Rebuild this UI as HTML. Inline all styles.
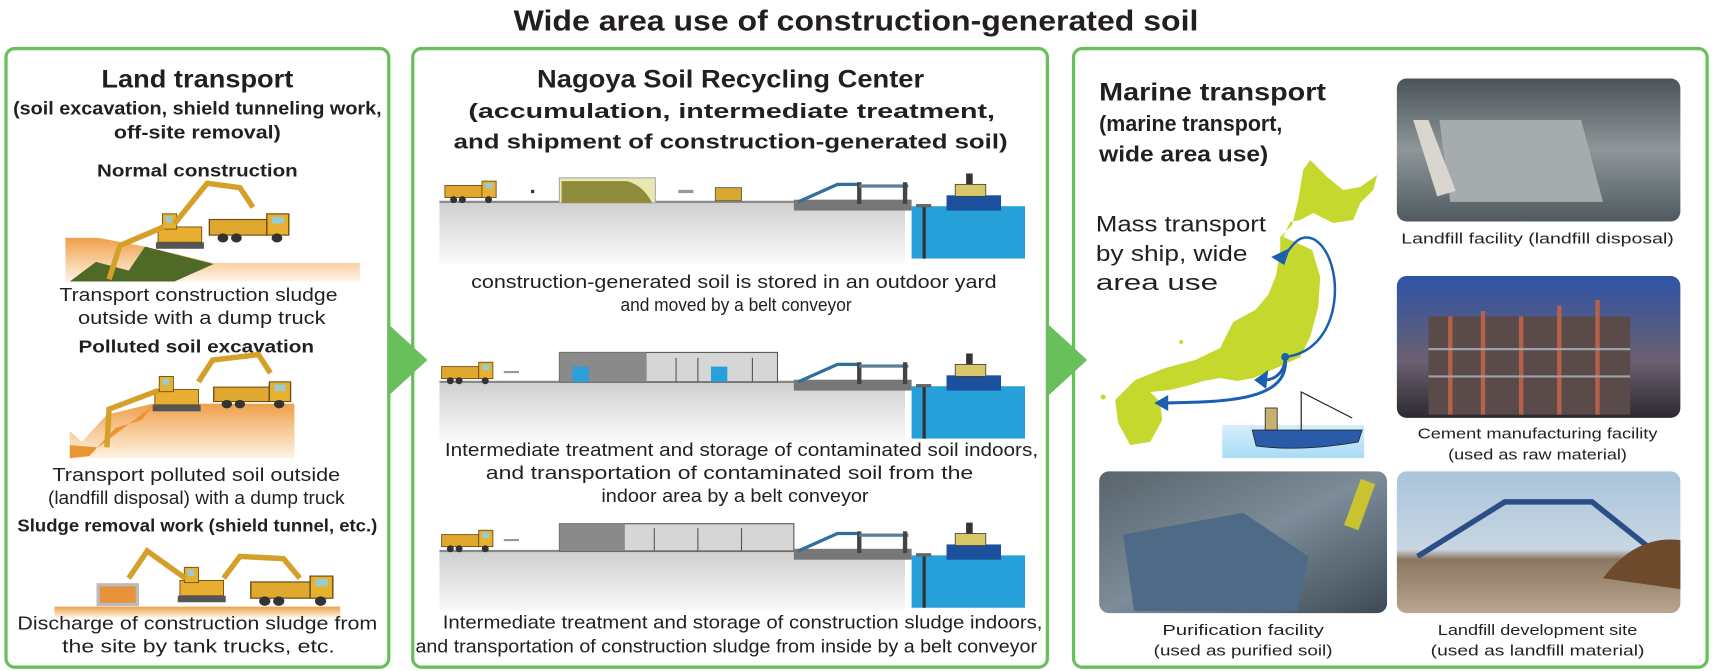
<!DOCTYPE html>
<html><head><meta charset="utf-8"><style>
html,body{margin:0;padding:0;background:#fff;width:1712px;height:671px;overflow:hidden}
svg{display:block}
text{font-family:"Liberation Sans",sans-serif;fill:#231f20}
.b{font-weight:bold}
</style></head><body>
<svg width="1712" height="671" viewBox="0 0 1570 615" preserveAspectRatio="none" xmlns="http://www.w3.org/2000/svg">
<defs>
<linearGradient id="tan" x1="0" y1="0" x2="0" y2="1"><stop offset="0" stop-color="#eea04a"/><stop offset="1" stop-color="#fff3e4"/></linearGradient>
<linearGradient id="gr" x1="0" y1="0" x2="0" y2="1"><stop offset="0" stop-color="#cfcfcf"/><stop offset="1" stop-color="#fafafa"/></linearGradient>
<linearGradient id="pA" x1="0" y1="0" x2="0" y2="1"><stop offset="0" stop-color="#4a5357"/><stop offset=".5" stop-color="#8e9699"/><stop offset="1" stop-color="#4f5a60"/></linearGradient>
<linearGradient id="pB" x1="0" y1="0" x2="0" y2="1"><stop offset="0" stop-color="#2e54a8"/><stop offset=".6" stop-color="#6b6070"/><stop offset="1" stop-color="#2c2a30"/></linearGradient>
<linearGradient id="pC" x1="0" y1="0" x2="1" y2="1"><stop offset="0" stop-color="#59646c"/><stop offset=".5" stop-color="#7c8c98"/><stop offset="1" stop-color="#3d4a55"/></linearGradient>
<linearGradient id="pD" x1="0" y1="0" x2="0" y2="1"><stop offset="0" stop-color="#a9c4dc"/><stop offset=".55" stop-color="#c8d6e2"/><stop offset=".62" stop-color="#8c7660"/><stop offset="1" stop-color="#b8a690"/></linearGradient>
<linearGradient id="sea" x1="0" y1="0" x2="0" y2="1"><stop offset="0" stop-color="#d6eefb"/><stop offset="1" stop-color="#a9dcf5"/></linearGradient>
<g id="truck"><rect x="0" y="4" width="34" height="11" fill="#e0a82e" stroke="#6b4a10" stroke-width=".8"/><rect x="34" y="0" width="13" height="15" fill="#e8b030" stroke="#6b4a10" stroke-width=".8"/><rect x="37" y="2" width="7" height="5" fill="#9cc"/><circle cx="8" cy="17" r="3.2" fill="#333"/><circle cx="16" cy="17" r="3.2" fill="#333"/><circle cx="40" cy="17" r="3.2" fill="#333"/></g>
<g id="exc"><rect x="0" y="12" width="40" height="14" fill="#e8ae32" stroke="#6b4a10" stroke-width=".8"/><rect x="4" y="0" width="13" height="14" fill="#e8b030" stroke="#6b4a10" stroke-width=".8"/><rect x="7" y="2" width="6" height="6" fill="#9cc"/><rect x="-2" y="26" width="44" height="6" fill="#555"/></g>
<g id="port"><rect x="0" y="0" width="108" height="10" fill="#777"/><path d="M4 2 L40 -14 L60 -14" stroke="#2f6f9a" stroke-width="3" fill="none"/><rect x="58" y="-16" width="4" height="20" fill="#444"/><rect x="60" y="-14" width="45" height="3" fill="#5a7f9a"/><rect x="100" y="-16" width="4" height="20" fill="#444"/><rect x="108" y="6" width="104" height="48" fill="#26a0d8"/><rect x="118" y="6" width="3" height="48" fill="#333"/><rect x="112" y="4" width="14" height="3" fill="#666"/><rect x="140" y="-4" width="50" height="14" fill="#1c4f9c"/><rect x="148" y="-14" width="28" height="11" fill="#d8c86a" stroke="#444" stroke-width=".8"/><rect x="158" y="-24" width="6" height="10" fill="#333"/></g>
</defs>

<text x="785" y="28" text-anchor="middle" class="b" font-size="26" textLength="628" lengthAdjust="spacingAndGlyphs">Wide area use of construction-generated soil</text>

<rect x="5.5" y="44.5" width="351" height="567" rx="8" fill="#fff" stroke="#6abf5d" stroke-width="3"/>
<rect x="378.5" y="44.5" width="582" height="567" rx="8" fill="#fff" stroke="#6abf5d" stroke-width="3"/>
<rect x="984.5" y="44.5" width="581" height="567" rx="8" fill="#fff" stroke="#6abf5d" stroke-width="3"/>
<polygon points="357,298 392,330 357,362" fill="#6abf5d"/>
<polygon points="962,298 997,330 962,362" fill="#6abf5d"/>

<!-- Panel 1 -->
<text x="181" y="80" text-anchor="middle" class="b" font-size="23" textLength="176" lengthAdjust="spacingAndGlyphs">Land transport</text>
<text x="181" y="105" text-anchor="middle" class="b" font-size="17" textLength="338" lengthAdjust="spacingAndGlyphs">(soil excavation, shield tunneling work,</text>
<text x="181" y="127" text-anchor="middle" class="b" font-size="17" textLength="153" lengthAdjust="spacingAndGlyphs">off-site removal)</text>
<text x="181" y="162" text-anchor="middle" class="b" font-size="16" textLength="184" lengthAdjust="spacingAndGlyphs">Normal construction</text>
<polygon points="60,258 60,218 90,218 133,226 196,241 330,241 330,258" fill="url(#tan)"/>
<polygon points="64,258 88,240 118,248 133,226 196,242 160,258" fill="#4f6a26"/>
<use href="#exc" x="145" y="196"/>
<path d="M160 205 L190 168 L220 172 L232 190" stroke="#d4a02a" stroke-width="5" fill="none"/>
<path d="M150 208 L110 225 L100 256" stroke="#d4a02a" stroke-width="5" fill="none"/>
<use href="#truck" transform="translate(192 196) scale(1.55 1.3)"/>
<text x="182" y="276" text-anchor="middle" font-size="17" textLength="255" lengthAdjust="spacingAndGlyphs">Transport construction sludge</text>
<text x="185" y="297" text-anchor="middle" font-size="17" textLength="227" lengthAdjust="spacingAndGlyphs">outside with a dump truck</text>
<text x="180" y="323" text-anchor="middle" class="b" font-size="16" textLength="216" lengthAdjust="spacingAndGlyphs">Polluted soil excavation</text>
<polygon points="64,420 64,395 75,405 98,380 140,370 195,370 270,370 270,420" fill="url(#tan)"/>
<polygon points="64,420 82,418 106,392 130,385 140,372 90,410 64,408" fill="#e99536"/>
<use href="#exc" x="142" y="345"/>
<path d="M182 350 L195 330 L237 325 L248 342" stroke="#d4a02a" stroke-width="5" fill="none"/>
<path d="M145 358 L100 375 L98 410" stroke="#d4a02a" stroke-width="5" fill="none"/>
<use href="#truck" transform="translate(196 350) scale(1.5 1.2)"/>
<text x="180" y="441" text-anchor="middle" font-size="17" textLength="264" lengthAdjust="spacingAndGlyphs">Transport polluted soil outside</text>
<text x="180" y="462" text-anchor="middle" font-size="17" textLength="272" lengthAdjust="spacingAndGlyphs">(landfill disposal) with a dump truck</text>
<text x="181" y="487" text-anchor="middle" class="b" font-size="16" textLength="330" lengthAdjust="spacingAndGlyphs">Sludge removal work (shield tunnel, etc.)</text>
<rect x="50" y="556" width="262" height="10" fill="url(#tan)"/>
<rect x="90" y="536" width="36" height="18" fill="#e8923a" stroke="#bbb" stroke-width="3"/>
<use href="#exc" x="165" y="520"/>
<path d="M170 530 L135 505 L118 530" stroke="#d4a02a" stroke-width="5" fill="none"/>
<path d="M205 530 L220 510 L260 512 L275 530" stroke="#d4a02a" stroke-width="5" fill="none"/>
<use href="#truck" transform="translate(230 528) scale(1.6 1.35)"/>
<text x="181" y="577" text-anchor="middle" font-size="17" textLength="330" lengthAdjust="spacingAndGlyphs">Discharge of construction sludge from</text>
<text x="182" y="598" text-anchor="middle" font-size="17" textLength="250" lengthAdjust="spacingAndGlyphs">the site by tank trucks, etc.</text>

<!-- Panel 2 -->
<text x="670" y="80" text-anchor="middle" class="b" font-size="23" textLength="355" lengthAdjust="spacingAndGlyphs">Nagoya Soil Recycling Center</text>
<text x="671" y="108" text-anchor="middle" class="b" font-size="19" textLength="483" lengthAdjust="spacingAndGlyphs">(accumulation, intermediate treatment,</text>
<text x="670" y="136" text-anchor="middle" class="b" font-size="19" textLength="508" lengthAdjust="spacingAndGlyphs">and shipment of construction-generated soil)</text>
<rect x="403" y="185" width="427" height="57" fill="url(#gr)"/>
<rect x="403" y="184" width="427" height="2" fill="#888"/>
<use href="#truck" x="408" y="166"/>
<rect x="487" y="174" width="3" height="3" fill="#333"/>
<rect x="513" y="163" width="88" height="23" fill="#e8e8b0" stroke="#aaa"/>
<path d="M515 186 L515 166 L575 166 Q590 170 598 186 Z" fill="#8e8c3a"/>
<rect x="622" y="174" width="14" height="3" fill="#999"/>
<rect x="656" y="172" width="24" height="12" fill="#d8a830" stroke="#555" stroke-width=".8"/>
<use href="#port" x="728" y="183"/>
<rect x="403" y="350" width="427" height="55" fill="url(#gr)"/>
<rect x="403" y="349" width="427" height="2" fill="#888"/>
<use href="#truck" x="405" y="332"/>
<rect x="462" y="340" width="14" height="2" fill="#999"/>
<rect x="513" y="323" width="200" height="27" fill="#d6d6d6" stroke="#555"/>
<rect x="513" y="323" width="80" height="27" fill="#8a8a8a"/>
<rect x="525" y="336" width="15" height="14" fill="#2aa0d8"/>
<rect x="652" y="336" width="15" height="14" fill="#2aa0d8"/>
<path d="M620 328 V350 M640 328 V350 M690 328 V350" stroke="#555"/>
<use href="#port" x="728" y="348"/>
<rect x="403" y="505" width="427" height="55" fill="url(#gr)"/>
<rect x="403" y="504" width="427" height="2" fill="#888"/>
<use href="#truck" x="405" y="486"/>
<rect x="462" y="494" width="14" height="2" fill="#999"/>
<rect x="513" y="480" width="215" height="25" fill="#d6d6d6" stroke="#555"/>
<rect x="513" y="480" width="60" height="25" fill="#8a8a8a"/>
<path d="M600 484 V505 M640 484 V505 M680 484 V505" stroke="#555"/>
<use href="#port" x="728" y="503"/>
<text x="673" y="264" text-anchor="middle" font-size="17" textLength="482" lengthAdjust="spacingAndGlyphs">construction-generated soil is stored in an outdoor yard</text>
<text x="675" y="285" text-anchor="middle" font-size="17" textLength="212" lengthAdjust="spacingAndGlyphs">and moved by a belt conveyor</text>
<text x="680" y="418" text-anchor="middle" font-size="17" textLength="544" lengthAdjust="spacingAndGlyphs">Intermediate treatment and storage of contaminated soil indoors,</text>
<text x="669" y="439" text-anchor="middle" font-size="17" textLength="447" lengthAdjust="spacingAndGlyphs">and transportation of contaminated soil from the</text>
<text x="674" y="460" text-anchor="middle" font-size="17" textLength="245" lengthAdjust="spacingAndGlyphs">indoor area by a belt conveyor</text>
<text x="681" y="576" text-anchor="middle" font-size="17" textLength="550" lengthAdjust="spacingAndGlyphs">Intermediate treatment and storage of construction sludge indoors,</text>
<text x="666" y="598" text-anchor="middle" font-size="17" textLength="570" lengthAdjust="spacingAndGlyphs">and transportation of construction sludge from inside by a belt conveyor</text>

<!-- Panel 3 -->
<text x="1008" y="92" class="b" font-size="23" textLength="208" lengthAdjust="spacingAndGlyphs">Marine transport</text>
<text x="1008" y="120" class="b" font-size="20" textLength="168" lengthAdjust="spacingAndGlyphs">(marine transport,</text>
<text x="1008" y="148" class="b" font-size="20" textLength="155" lengthAdjust="spacingAndGlyphs">wide area use)</text>
<g transform="scale(0.9172 0.9165)">
<rect x="1222" y="425" width="142" height="33" fill="url(#sea)"/>
<path d="M1310 160 L1327 177 L1343 190 L1360 187 L1377 175 L1373 190 L1360 203 L1353 220 L1333 223 L1313 213 L1300 220 L1290 222 L1283 237 L1297 243 L1312 250 L1320 277 L1318 307 L1310 337 L1300 357 L1283 365 L1267 372 L1253 378 L1237 381 L1220 378 L1203 381 L1190 385 L1170 390 L1150 392 L1160 402 L1162 420 L1150 442 L1130 445 L1118 423 L1115 400 L1135 380 L1165 368 L1195 360 L1220 348 L1233 322 L1255 310 L1268 295 L1276 275 L1280 250 L1280 237 L1292 225 L1298 200 L1303 170 Z" fill="#c5d82e"/>
<circle cx="1103" cy="397" r="2.5" fill="#c5d82e"/><circle cx="1181" cy="342" r="2" fill="#c5d82e"/>
<path d="M1285 357 C1345 350 1345 260 1315 240 C1300 232 1292 245 1285 255" stroke="#1a5fb0" stroke-width="2.5" fill="none"/>
<polygon points="1271,257 1290,248 1284,265" fill="#1a5fb0"/>
<path d="M1285 357 C1285 372 1275 380 1264 380" stroke="#1a5fb0" stroke-width="3" fill="none"/>
<polygon points="1254,380 1268,370 1266,389" fill="#1a5fb0"/>
<path d="M1285 357 C1290 400 1230 402 1165 403" stroke="#1a5fb0" stroke-width="3" fill="none"/>
<polygon points="1154,403 1168,395 1168,411" fill="#1a5fb0"/>
<circle cx="1285" cy="357" r="4" fill="#1a5fb0"/>
<path d="M1252 430 L1362 430 L1358 442 Q1300 452 1256 446 Z" fill="#2a5ba8" stroke="#222" stroke-width=".8"/>
<rect x="1265" y="408" width="12" height="22" fill="#c8b070" stroke="#222" stroke-width=".8"/>
<path d="M1301 430 V392 L1352 418" stroke="#222" stroke-width="1.2" fill="none"/>
</g>
<text x="1005" y="212" font-size="20" textLength="156" lengthAdjust="spacingAndGlyphs">Mass transport</text>
<text x="1005" y="239" font-size="20" textLength="139" lengthAdjust="spacingAndGlyphs">by ship, wide</text>
<text x="1005" y="266" font-size="20" textLength="112" lengthAdjust="spacingAndGlyphs">area use</text>

<rect x="1281" y="72" width="260" height="131" rx="9" fill="url(#pA)"/>
<polygon points="1320,110 1450,110 1470,185 1330,185" fill="#a6abae"/>
<polygon points="1296,110 1310,110 1335,175 1318,180" fill="#d9d6cf"/>
<text x="1410" y="223" text-anchor="middle" font-size="13.5" textLength="250" lengthAdjust="spacingAndGlyphs">Landfill facility (landfill disposal)</text>
<rect x="1281" y="253" width="260" height="130" rx="9" fill="url(#pB)"/>
<rect x="1310" y="290" width="185" height="90" fill="#5b4a4a"/>
<path d="M1330 290 V380 M1360 285 V380 M1395 290 V380 M1430 280 V380 M1465 275 V380" stroke="#b5614a" stroke-width="4"/>
<path d="M1310 320 H1495 M1310 345 H1495" stroke="#a0a0a8" stroke-width="2"/>
<text x="1410" y="402" text-anchor="middle" font-size="13.5" textLength="220" lengthAdjust="spacingAndGlyphs">Cement manufacturing facility</text>
<text x="1410" y="421" text-anchor="middle" font-size="13.5" textLength="164" lengthAdjust="spacingAndGlyphs">(used as raw material)</text>
<rect x="1008" y="432" width="264" height="130" rx="9" fill="url(#pC)"/>
<polygon points="1030,490 1140,470 1200,510 1190,560 1040,560" fill="#4e6a86"/>
<rect x="1240" y="440" width="14" height="45" fill="#c9c330" transform="rotate(20 1247 462)"/>
<text x="1140" y="582" text-anchor="middle" font-size="13.5" textLength="148" lengthAdjust="spacingAndGlyphs">Purification facility</text>
<text x="1140" y="601" text-anchor="middle" font-size="13.5" textLength="164" lengthAdjust="spacingAndGlyphs">(used as purified soil)</text>
<rect x="1281" y="432" width="260" height="130" rx="9" fill="url(#pD)"/>
<path d="M1300 510 L1380 460 L1460 460 L1510 500" stroke="#2b4e86" stroke-width="5" fill="none"/>
<path d="M1470 530 Q1500 490 1541 495 L1541 540 Z" fill="#6e4a2c"/>
<text x="1410" y="582" text-anchor="middle" font-size="13.5" textLength="183" lengthAdjust="spacingAndGlyphs">Landfill development site</text>
<text x="1410" y="601" text-anchor="middle" font-size="13.5" textLength="196" lengthAdjust="spacingAndGlyphs">(used as landfill material)</text>
</svg>
</body></html>
